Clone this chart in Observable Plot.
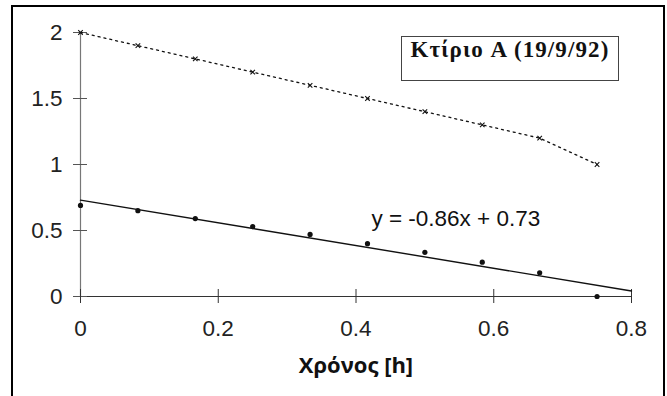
<!DOCTYPE html>
<html>
<head>
<meta charset="utf-8">
<script src="https://cdn.jsdelivr.net/npm/d3@7"></script>
<script src="https://cdn.jsdelivr.net/npm/@observablehq/plot@0.6"></script>
<style>
  html, body { margin: 0; padding: 0; background: #fff; }
  #wrap { position: relative; width: 667px; height: 396px; overflow: hidden; background: #fff; }
  #frame { position: absolute; left: 11px; top: 5px; width: 650px; height: 500px; border: 2px solid #000; }
  #chart { position: absolute; left: 0; top: 0; }
  #legend { position: absolute; left: 401px; top: 36px; width: 216px; height: 42px; border: 1px solid #444;
    font-family: "Liberation Serif", "Times New Roman", serif; font-weight: bold; font-size: 23px;
    line-height: 23px; padding: 1px 0 0 0; text-align: center; color: #111; letter-spacing: 1.1px; box-sizing: content-box; white-space: nowrap; }
</style>
</head>
<body>
<div id="wrap">
  <div id="frame"></div>
  <div id="chart"></div>
  <div id="legend">Κτίριο A (19/9/92)</div>
</div>
<script>
const times = [0, 1/12, 2/12, 3/12, 4/12, 5/12, 6/12, 7/12, 8/12, 9/12];
const upperValues = [2.0, 1.9, 1.8, 1.7, 1.6, 1.5, 1.4, 1.3, 1.2, 1.0];
const lowerValues = [0.69, 0.65, 0.59, 0.53, 0.47, 0.40, 0.335, 0.26, 0.18, 0.0];
const trendX = [0, 0.8];
const trendY = [0.73, 0.042];
const xTicks = [0, 0.2, 0.4, 0.6, 0.8];
const yTicks = [0, 0.5, 1, 1.5, 2];
const equationLabel = "y = -0.86x + 0.73";
const xLabel = "Χρόνος [h]";

const upper = times.map((t, i) => ({t, v: upperValues[i]}));
const lower = times.map((t, i) => ({t, v: lowerValues[i]}));
const trend = trendX.map((t, i) => ({t, v: trendY[i]}));

const tickFont = {fontSize: 22.5, fontFamily: "Liberation Sans, Arial, sans-serif", fill: "#222"};

const chart = Plot.plot({
  width: 667,
  height: 396,
  marginLeft: 80,
  marginRight: 36,
  marginTop: 32,
  marginBottom: 100,
  style: {background: "transparent", overflow: "visible"},
  x: {domain: [0, 0.8]},
  y: {domain: [0, 2]},
  marks: [
    Plot.ruleX([0], {y1: 0, y2: 2, stroke: "#777", strokeWidth: 1.2}),
    Plot.ruleY([0], {x1: 0, x2: 0.8, stroke: "#333", strokeWidth: 1.2}),
    Plot.axisY(yTicks, {tickSize: 14, dx: 7, text: null, label: null, stroke: "#555"}),
    Plot.axisX(xTicks, {tickSize: 14, dy: -7, text: null, label: null, stroke: "#333"}),
    Plot.axisY(yTicks, {tickSize: 0, tickPadding: 18, tickFormat: d => String(d), label: null, ...tickFont}),
    Plot.axisX(xTicks, {tickSize: 0, tickPadding: 24, tickFormat: d => String(d), label: null, ...tickFont}),
    Plot.line(upper, {x: "t", y: "v", stroke: "#111", strokeWidth: 1.3, strokeDasharray: "2,4"}),
    Plot.dot(upper, {x: "t", y: "v", symbol: "times", r: 2.2, stroke: "#111", strokeWidth: 1.1}),
    Plot.line(trend, {x: "t", y: "v", stroke: "#111", strokeWidth: 1.4}),
    Plot.dot(lower, {x: "t", y: "v", r: 2.6, fill: "#111", stroke: "none"}),
    Plot.text([equationLabel], {x: () => 0.545, y: () => 0.59, text: d => d, ...tickFont, fill: "#111"}),
    Plot.text([xLabel], {frameAnchor: "bottom", dy: 76, text: d => d, fontSize: 22, fontWeight: "bold", fontFamily: "Open Sans, Noto Sans, sans-serif", fill: "#111"})
  ]
});
document.getElementById("chart").appendChild(chart);
</script>
</body>
</html>
